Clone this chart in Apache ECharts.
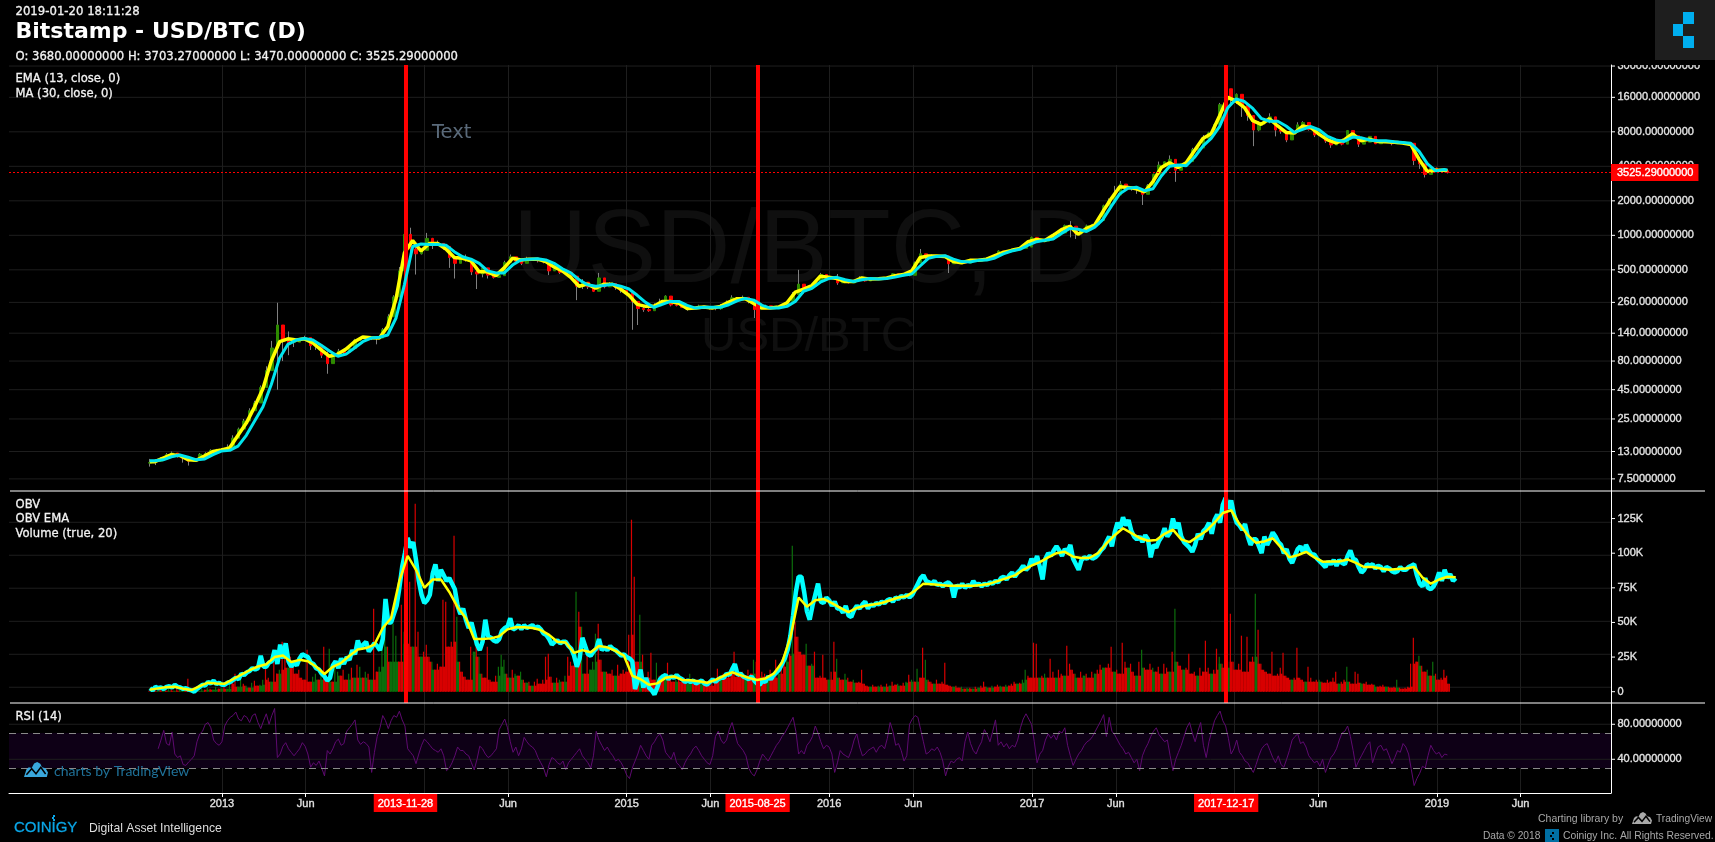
<!DOCTYPE html>
<html><head><meta charset="utf-8"><title>Bitstamp - USD/BTC (D)</title>
<style>html,body{margin:0;padding:0;background:#000}#c{width:1715px;height:842px}</style>
<script src="https://cdn.jsdelivr.net/npm/echarts@6/dist/echarts.min.js"></script></head>
<body><div id="c"></div>
<script>
// ---- values ----
const ema13 = [10.6,10.6,11.4,12.2,12,11,10.9,11.9,13,13.4,
14,18,23,32,46,80,118,125,122,125,115,100,88,92,102,118,130,128,127,160,280,700,900,730,
850,850,760,640,630,600,480,480,445,520,630,610,620,620,590,530,490,430,360,375,345,375,375,340,
300,250,240,240,265,265,255,230,232,237,232,240,262,280,280,255,232,232,237,258,320,340,365,440,430,
420,395,395,425,415,418,425,445,455,490,640,660,660,655,590,577,605,605,620,665,710,740,770,880,
920,900,1000,1120,1200,1020,1150,1230,1620,2100,2650,2620,2550,2400,2950,3900,4300,3900,4300,5500,7000,7700,11000,16000,
14800,13000,10000,9300,10400,9000,7900,7800,9000,8700,7600,6800,6400,6800,7700,6700,6900,6600,6550,6500,6400,6200,4600,3600,3700,
3700,3640];
const ma30 = [10.8,10.8,11,11.7,12.1,11.6,11,11.2,12.2,13.1,
13.3,14.5,18,24,32,50,85,112,122,126,122,110,98,88,92,104,118,127,129,135,190,370,800,840,
830,830,820,720,650,620,570,490,470,470,550,610,620,625,610,570,510,470,410,370,360,365,375,360,
340,300,260,235,250,265,265,245,232,236,236,236,248,268,282,272,245,232,232,240,265,325,345,390,420,
430,410,395,410,420,415,420,432,448,460,540,630,655,665,620,590,585,605,608,635,690,730,755,820,
880,905,930,1040,1150,1130,1080,1180,1380,1800,2300,2580,2630,2450,2550,3300,4000,4100,4050,4800,6000,7000,8900,13000,
15500,14700,12800,10500,9900,9900,9000,7900,8400,8900,8300,7300,6800,6600,7200,7100,6800,6700,6700,6550,6450,6350,5400,4200,3650,
3750,3720];
const candleClose = [10.4,10.7,11.1,12.2,12.6,12,11.4,10.7,11,12.3,12.5,13.3,13.4,
13.5,14.2,17,20.4,24,29.5,34.5,47,66,104,165,120,116,117,122,128,109,108,90,76,88,98,95,103,122,125,127,126,127,150,195,290,490,1020,760,690,740,
940,830,850,800,640,570,640,620,480,460,520,450,430,445,580,650,595,570,630,620,600,585,490,510,475,475,440,360,390,355,325,425,355,380,350,330,
315,265,230,225,220,243,262,295,247,245,235,235,233,242,235,230,229,245,262,285,277,288,265,225,230,243,232,240,243,265,305,375,335,358,395,455,425,
430,385,390,385,405,425,400,415,417,423,430,462,447,456,448,575,690,660,660,655,660,565,585,585,572,608,595,613,635,655,730,715,738,750,770,790,960,
905,890,920,990,1050,1220,1200,1040,1080,1210,1240,1350,1810,2000,2250,2800,2650,2570,2500,2280,2730,3410,4100,4380,4600,3700,4200,4400,5600,5780,7000,7850,9300,13800,19000,15800,
17000,13600,11100,8300,9500,9800,10800,8300,8100,6800,8100,9200,9650,8400,7500,7600,6650,6150,6600,6250,8200,7400,6250,6500,7300,6300,6700,6500,6300,6400,6350,6350,4500,4200,3400,3850,3700,
3650,3525.29];
const candleHigh = [11.2,11,11.6,12.6,13,12.3,11.8,11,11.3,12.6,12.8,13.6,13.7,
13.8,15,18,21,25,31,36,49,72,120,258,150,145,125,127,133,118,112,92,97,95,102,100,110,125,130,132,128,130,155,205,300,530,1140,1165,850,760,
1050,950,900,850,720,650,680,680,590,490,550,520,450,455,600,680,615,620,650,630,625,600,520,530,490,490,450,400,415,380,345,470,385,390,360,345,
320,290,240,240,240,255,280,300,265,258,255,240,240,248,240,236,232,252,270,300,285,298,282,260,235,248,236,242,246,272,320,500,345,362,400,470,455,
435,460,400,395,410,440,420,418,420,426,432,467,450,458,452,590,760,690,680,670,665,610,590,590,580,612,600,616,640,660,740,722,745,755,775,800,975,
915,915,930,1050,1060,1240,1330,1120,1100,1240,1260,1360,1850,2100,2700,2980,2700,2650,2600,2400,2800,3450,4400,4400,4980,4300,4250,4450,5800,6100,7500,8000,9500,14300,19666,16500,
17300,14000,11800,9300,9900,10300,11600,8600,8200,7000,8200,9700,9900,8800,7600,7800,6900,6200,6680,6300,8300,7500,6450,6600,7350,6400,6750,6560,6350,6420,6380,6400,5000,4300,3500,4100,3900,
3800,3703.27];
const candleLow = [9.6,9.9,10.6,11.6,12.2,11.5,10.4,9.8,10.6,11.9,12.2,12.9,13.1,
13.2,13.8,16,19,23,27,33,43,58,92,45,80,90,106,118,122,100,100,85,62,82,92,90,98,115,120,122,122,112,140,185,240,420,900,650,455,680,
880,760,810,750,520,420,600,590,450,340,430,420,420,435,560,620,570,550,600,610,580,570,450,490,460,460,430,272,340,340,320,350,345,365,335,315,
305,150,165,215,215,235,255,280,240,240,232,220,230,235,232,225,222,225,242,265,265,280,255,190,218,235,228,235,238,262,290,330,310,350,380,440,415,
425,370,385,380,400,415,395,412,414,420,428,455,444,452,440,525,670,620,640,650,650,469,570,575,565,600,590,608,630,650,700,705,730,740,760,780,920,
870,880,910,960,1030,1190,960,930,1020,1190,1220,1320,1700,1950,1900,2700,2550,2450,2300,1840,2650,3250,3900,4280,4350,2930,4050,4300,5500,5500,6900,7100,8600,12000,17000,13500,
14000,10800,10000,6000,8100,9300,9500,7300,7700,6500,7800,8700,9500,8200,7200,7500,6400,5800,6500,6100,7800,7300,5900,6350,7200,6250,6550,6440,6100,6380,6320,6300,4100,3800,3200,3700,3620,
3600,3470];
// signed: negative = red (down) day, positive = green (up) day
const volume = [-1,1,-2,1,-2,2,-1,3,-2,1,-3,2,1,-2,-13,-3,1,-2,1,3,-2,4,-3,2,5,-3,
4,-6,3,8,-10,-18,5,15,-8,6,-4,9,-11,-6,7,12,-25,-14,10,-30,-18,22,-50,-47,24,-35,-28,-18,-22,-14,
-12,-42,-10,15,18,-12,16,-45,-14,43,-10,25,20,-16,-22,-12,18,-24,14,-27,25,-14,20,-18,12,-83,-20,25,45,66,-45,30,68,56,-30,-87,
60,-48,-110,45,-188,-60,35,-40,-47,-35,30,-22,-28,-25,-92,-90,-45,-50,-156,75,-30,-20,-15,-12,-45,40,-45,35,-18,-14,-45,-12,-10,-16,25,37,
32,-18,14,-22,18,-16,20,-12,9,-10,6,-10,-13,-8,-12,-35,-38,-15,9,-14,12,-10,16,-35,-30,-26,100,-80,65,-18,-38,22,30,58,-68,-32,20,-20,-18,-22,16,-27,-18,-22,-20,-57,
-172,-115,-30,77,-37,-14,-20,-39,-12,29,-16,-12,16,-29,-14,-10,12,-16,-10,-14,8,18,-10,-8,-12,9,-8,-10,-6,-14,-12,-23,16,-18,-14,-20,-25,-40,-15,-18,-20,15,-22,-18,32,
-30,15,-20,-18,12,-22,-14,-32,18,-25,-30,36,-38,146,-70,-55,-40,-37,48,-26,28,-40,-14,-16,-37,-14,12,-20,-50,33,-14,-12,18,-14,-10,12,-9,-10,-22,-8,-6,5,-7,-5,6,-7,5,-8,6,-10,-7,8,-6,-9,10,-17,12,-10,23,-14,-44,32,-12,-10,8,-12,-8,-10,-29,-7,-6,5,-6,-4,5,-3,4,-4,3,-5,4,-6,-10,5,-4,6,-5,-7,6,-5,7,-6,-8,-10,8,-9,12,22,-16,-14,
-49,-48,14,-16,18,-14,-33,-20,14,-22,-18,16,-46,-28,-22,18,-14,-20,16,-18,-14,-20,18,-22,-27,24,-24,-28,-45,20,-22,-18,-49,-30,24,-28,-20,16,-30,42,-24,-22,-28,24,-20,-25,18,-28,-24,20,-40,83,-30,-26,22,-24,-38,-18,-20,16,-24,-20,-51,-24,18,-22,-43,35,-28,-24,30,-78,-30,-22,-28,-56,-20,-55,-30,-35,98,-62,-28,-22,-20,-18,-40,-16,-18,-24,-39,-16,-14,12,-14,-44,-14,-12,10,-25,-14,-10,-12,12,-10,-9,-12,-10,-14,-20,8,-10,-12,25,-10,-8,-20,-18,9,-8,-10,-7,-8,7,-5,-6,-7,5,-5,-4,-5,12,-4,-3,-4,-5,-28,-54,-30,36,-26,-20,22,-16,30,-18,-12,-14,-22,-16,-8];
const obv = [2.5,1,3.5,2.5,3,2,3.5,4,3,5,3.5,3,2,2.5,1.5,1,0,2,3.5,5,4.5,7,6,8,5.5,6.5,5,5,6.5,7,8.5,10,9,13,12,14,15,17,16,17,26,18,18,21,22,30,20,34,24,35,22,18,21,19,24,27,26,25,21,20,17,16,13,11,8,10,19,22,17,24,20,25,23,30,27,37,31,34,36,29,32,35,33,30,38,67,50,50,56,62,75,90,100,111,104,108,95,80,70,64,66,70,85,92,80,88,84,80,
82,78,74,62,56,60,52,46,50,42,34,30,36,52,40,39,37,36,38,44,46,47,53,45,46,48,45,48,46,47,48,46,47,45,42,41,38,34,36,37,35,36,36,33,31,26,18,24,39,33,27,26,29,31,38,30,32,30,33,31,30,28,26,27,25,24,22,2,8,16,3,10,3,1,-2,3,9,11,12,9,11,10,12,10,9,7,8,7,8,6,7,8,6,5,7,9,7,9,10,10,13,12,16,20,12,13,11,10,9,11,8,6,5,8,7,11,9,12,14,16,20,24,30,40,55,72,83,83,72,
58,52,62,70,78,65,64,68,66,62,65,60,60,57,62,55,54,59,62,60,63,65,60,63,62,64,63,65,64,66,67,65,68,67,69,68,70,68,70,74,78,82,84,80,79,78,80,77,78,76,78,79,77,68,77,75,78,75,77,76,80,77,78,76,78,77,79,78,80,79,82,83,81,84,86,83,86,88,91,88,90,96,92,98,90,81,96,100,98,102,105,102,98,103,101,106,96,92,88,95,97,96,98,96,97,99,102,104,108,112,105,115,122,118,126,120,124,116,112,110,112,108,113,110,97,106,104,109,112,118,112,115,125,118,122,112,108,106,104,101,106,114,110,116,118,122,114,124,128,122,135,140,132,138,128,122,120,117,121,112,106,110,110,105,100,112,106,110,115,112,108,106,100,103,96,93,98,103,105,100,106,102,99,99,96,94,92,90,94,92,95,91,95,93,92,98,102,96,95,90,86,88,92,91,92,89,91,90,87,90,89,87,86,87,90,88,88,90,91,92,84,78,76,82,75,74,76,80,86,80,88,82,85,80,82];
const obvEma = [1.5,2.4,3.3,3.6,2.2,1.2,4,6.5,6,5.8,9,12.3,15.5,18.2,19.8,25,26.2,21.5,23,22,18,12.8,18,20.8,26,30.5,31.5,34,46,53,80,98,88,75,81,81,72,61,53,38,38,38.5,40,45,46.5,46.5,46,44.5,41,36,35.5,28,30,28.5,33,32,29.5,26,11.5,9,5,6,10,11,8.5,8.2,7.5,6.5,8.5,11.5,14,12,10,8.4,9.5,13,21,39,68,61.4,66,67,64,60.5,57.5,60.5,62,63,64,66,68,69,73,78,77.5,77,76.5,76.5,76.5,76.5,77,78,80,82,84,88,91,93.5,97,100,101,97.5,96.5,96.7,100,107,113,118,114.5,111,109,109.5,114,117,110,108,112,116,122,129,131,121,113,107.5,108.5,110.8,104,97,98.5,101,97,93.9,94,94,95.5,93,90,90,89,88,88.5,89,90,82.5,78,81,83,82.7];
const rsi = [null,null,null,52,62,73,58,56,71,46,42,44,34,33,37,40,44,60,69,72,80,82,76,62,58,56,60,78,84,88,90,94,86,84,90,88,82,90,92,82,75,84,92,80,90,98,42,46,55,59,52,48,44,48,52,59,55,46,31,36,33,
38,30,21,50,46,52,60,63,56,58,72,76,80,85,62,57,60,58,54,25,48,66,76,90,84,75,84,90,88,95,85,78,52,48,44,35,46,56,63,60,
56,52,50,48,52,44,27,30,36,44,54,50,50,46,44,36,28,40,55,52,46,42,44,48,52,74,80,86,76,60,48,54,44,52,65,60,56,54,50,42,
36,30,20,34,42,40,36,34,38,28,36,40,44,48,52,44,40,36,30,44,72,62,56,50,54,48,44,38,40,36,30,22,18,30,38,46,56,50,44,40,
56,60,66,69,62,48,44,40,48,36,33,28,36,42,46,52,55,50,44,40,36,34,44,66,72,62,58,62,74,82,70,58,54,50,44,30,24,21,28,38,
46,42,38,44,50,56,60,66,70,76,82,88,72,46,
50,46,56,60,66,78,70,60,52,56,54,46,25,36,50,46,44,42,50,62,69,54,44,46,50,52,54,48,54,56,52,64,82,72,56,58,50,38,44,80,86,90,88,74,60,46,48,52,50,54,48,38,21,32,38,36,40,42,38,60,71,58,50,46,54,60,74,68,60,72,85,56,60,54,58,52,56,54,62,76,86,92,86,80,60,36,46,50,62,69,64,68,62,72,70,76,56,44,33,40,46,50,56,60,62,66,72,78,84,91,66,88,72,68,62,56,52,46,48,42,36,40,27,44,52,58,66,72,76,68,64,60,62,44,27,40,48,56,66,76,82,70,60,72,82,56,42,60,72,84,90,95,84,78,64,46,52,62,48,44,38,36,30,25,34,44,52,56,58,50,42,36,44,34,31,40,50,62,66,69,58,60,54,44,40,36,38,32,40,25,34,42,46,52,62,70,72,78,66,50,31,38,44,50,56,60,36,46,54,56,50,52,44,35,42,50,48,58,54,46,28,10,18,24,32,30,44,56,50,46,48,42,46,45];
const priceTicks = [30000,16000,8000,4000,2000,1000,500,260,140,80,45,25,13,7.5];
const obvTicks = [0,25,50,75,100,125];
const obvGridLines = [122.3,98.5,74.7,50.8,27,3.2];
const rsiTicks = [40,80];
const rsiBands = [30,70];
const timeLabelDates = ['2013-01-01','2013-06-01','2013-11-28','2014-06-01','2015-01-01','2015-06-01','2015-08-25','2016-01-01','2016-06-01','2017-01-01','2017-06-01','2017-12-17','2018-06-01','2019-01-01','2019-06-01'];
const timeLabels = ['2013','Jun','2013-11-28','Jun','2015','Jun','2015-08-25','2016','Jun','2017','Jun','2017-12-17','Jun','2019','Jun'];
const highlightDates = ['2013-11-28','2015-08-25','2017-12-17'];
const timeGridDates = ['2013-01-01','2013-06-01','2014-01-01','2014-06-01','2015-01-01','2015-06-01','2016-01-01','2016-06-01','2017-01-01','2017-06-01','2018-01-01','2018-06-01','2019-01-01','2019-06-01'];
const lastClose = 3525.29;

// ---- helpers ---- (x axes count in days since 2013-01-01)
const DAY = 864e5, EPOCH = Date.parse('2013-01-01T00:00:00Z'), ms = s => (Date.parse(s + 'T00:00:00Z') - EPOCH) / DAY;
const START = ms('2012-08-24'), END = ms('2019-01-20');
const xMin = ms('2011-12-14'), xMax = ms('2019-11-11');
const smoothDates = ema13.map((_, i) => i === 0 ? START : i === ema13.length - 1 ? END : ms('2012-08-18') + i * 15);
const d10 = i => START + i * 10, d5 = i => START + i * 5, d15 = i => START + i * 15;
const wicks = candleClose.map((c, i) => { const o = i ? candleClose[i - 1] : 10.3; return [d10(i), o, c, candleLow[i], candleHigh[i]]; });
const bodies = wicks.map(w => [w[0], w[1], w[2], Math.min(w[1], w[2]), Math.max(w[1], w[2])]);
const GRID = '#1e1e1e', WHITE = '#ffffff', AXTXT = '#e2e2e2';
const font = 'Liberation Sans';
const RED = '#d80000', GREEN = '#0c6e0c';

const txt = (x, y, text, size, fill, extra, z) => ({ type: 'text', x, y, silent: true, z: z === undefined ? 30 : z,
  style: Object.assign({ text, fill, fontSize: size, fontFamily: 'DejaVu Sans', textVerticalAlign: 'middle', textAlign: 'left' }, extra || {}) });
const heavy = c => ({ stroke: c, lineWidth: 0.3 });
const rect = (x, y, w, h, fill, z) => ({ type: 'rect', silent: true, z: z === undefined ? 30 : z, shape: { x, y, width: w, height: h }, style: { fill } });
const hline = (x1, x2, y) => ({ type: 'line', silent: true, z: 40, shape: { x1, y1: y, x2, y2: y }, style: { stroke: WHITE, lineWidth: 1 } });
const cloud = (x, y, w, h, fill, gap) => {
  const pts = [[0,1],[.1,.5],[.2,.35],[.32,.4],[.42,.1],[.55,0],[.68,.12],[.75,.35],[.9,.42],[1,.7],[.95,1]].map(p => [x + p[0] * w, y + p[1] * h]);
  const zig = [[.1,.85],[.32,.45],[.5,.78],[.7,.35],[.9,.8]].map(p => [x + p[0] * w, y + p[1] * h]);
  return [
    { type: 'polygon', silent: true, z: 30, shape: { points: pts }, style: { fill } },
    { type: 'polyline', silent: true, z: 31, shape: { points: zig }, style: { fill: 'none', stroke: gap, lineWidth: 1.5 } }
  ];
};

// draws horizontal grid, tick mark and the value text of a pane through its own y scale
const yTickItem = (fmt, drawGrid) => (params, api) => {
  const p = api.coord([api.value(0), api.value(1)]), g = params.coordSys, v = api.value(1), kids = [];
  if (drawGrid) kids.push({ type: 'line', shape: { x1: g.x, y1: p[1], x2: g.x + g.width, y2: p[1] }, style: { stroke: GRID, lineWidth: 1 } });
  kids.push({ type: 'line', shape: { x1: g.x + g.width, y1: p[1], x2: g.x + g.width + 4, y2: p[1] }, style: { stroke: WHITE, lineWidth: 1 } });
  kids.push({ type: 'text', x: g.x + g.width + 6.5, y: p[1], style: { text: fmt(v), fill: AXTXT, stroke: AXTXT, lineWidth: 0.35, fontSize: 11, fontFamily: font, textVerticalAlign: 'middle' } });
  return { type: 'group', silent: true, children: kids };
};
const hGrid = (params, api) => {
  const p = api.coord([api.value(0), api.value(1)]), g = params.coordSys;
  return { type: 'line', silent: true, shape: { x1: g.x, y1: p[1], x2: g.x + g.width, y2: p[1] }, style: { stroke: GRID, lineWidth: 1 } };
};
const redLines = { silent: true, symbol: 'none', animation: false, label: { show: false },
  lineStyle: { color: '#ff0000', width: 4, type: 'solid', opacity: 1 }, emphasis: { disabled: true },
  data: highlightDates.map(d => ({ xAxis: ms(d) })) };

const paneX = gi => ({ type: 'value', gridIndex: gi, min: xMin, max: xMax, axisLine: { show: false }, axisLabel: { show: false },
  axisTick: { show: false, customValues: timeGridDates.map(ms) },
  splitLine: { show: true, lineStyle: { color: GRID, width: 1 } }, axisPointer: { show: false } });
const labelMap = {}; timeLabelDates.forEach((d, i) => labelMap[ms(d)] = { text: timeLabels[i], red: highlightDates.includes(d) });
const labelBox = { fontSize: 11, fontFamily: font, padding: [4, 4, 3, 4], textBorderWidth: 0.35 };

const option = {
  backgroundColor: '#000', animation: false,
  grid: [
    { left: 9, right: 104, top: 65, height: 426 },
    { left: 9, right: 104, top: 491, height: 212 },
    { left: 9, right: 104, top: 703, height: 90 }
  ],
  xAxis: [paneX(0), paneX(1), paneX(2), {
    type: 'value', gridIndex: 2, min: xMin, max: xMax, position: 'bottom',
    axisLine: { show: true, onZero: false, lineStyle: { color: WHITE, width: 1 } },
    axisTick: { show: true, length: 4, lineStyle: { color: WHITE }, customValues: timeLabelDates.map(ms) },
    splitLine: { show: false },
    axisLabel: { show: true, customValues: timeLabelDates.map(ms), hideOverlap: false, margin: 1, color: AXTXT, fontSize: 11, fontFamily: font,
      formatter: v => { const l = labelMap[v]; return l ? (l.red ? '{r|' + l.text + '}' : '{n|' + l.text + '}') : ''; },
      rich: { r: Object.assign({ backgroundColor: '#ff0000', color: '#fff', textBorderColor: '#fff' }, labelBox),
              n: Object.assign({ color: AXTXT, textBorderColor: AXTXT }, labelBox) } }
  }],
  yAxis: [
    { type: 'log', gridIndex: 0, position: 'right', min: 5.88, max: 30630, axisLine: { show: true, onZero: false, lineStyle: { color: WHITE } }, axisTick: { show: false }, axisLabel: { show: false }, splitLine: { show: false }, minorTick: { show: false } },
    { type: 'value', gridIndex: 1, position: 'right', min: -8.16, max: 144.9, axisLine: { show: true, onZero: false, lineStyle: { color: WHITE } }, axisTick: { show: false }, axisLabel: { show: false }, splitLine: { show: false } },
    { type: 'value', gridIndex: 1, min: -11.3, max: 200.7, show: false, splitLine: { show: false } },
    { type: 'value', gridIndex: 2, position: 'right', min: 1.5, max: 104.3, axisLine: { show: true, onZero: false, lineStyle: { color: WHITE } }, axisTick: { show: false }, axisLabel: { show: false }, splitLine: { show: false } }
  ],
  series: [
    { name: 'priceAxis', type: 'custom', xAxisIndex: 0, yAxisIndex: 0, z: 1, renderItem: yTickItem(v => v.toFixed(8), true), data: priceTicks.map(v => [xMin, v]), encode: { x: 0, y: 1 } },
    { name: 'obvGrid', type: 'custom', xAxisIndex: 1, yAxisIndex: 1, z: 1, renderItem: hGrid, data: obvGridLines.map(v => [xMin, v]), encode: { x: 0, y: 1 } },
    { name: 'obvAxis', type: 'custom', xAxisIndex: 1, yAxisIndex: 1, z: 1, renderItem: yTickItem(v => v ? v + 'K' : '0', false), data: obvTicks.map(v => [xMin, v]), encode: { x: 0, y: 1 } },
    { name: 'rsiAxis', type: 'custom', xAxisIndex: 2, yAxisIndex: 3, z: 1, renderItem: yTickItem(v => v.toFixed(8), true), data: rsiTicks.map(v => [xMin, v]), encode: { x: 0, y: 1 } },
    { name: 'wicks', type: 'candlestick', xAxisIndex: 0, yAxisIndex: 0, z: 2, barWidth: 1, silent: true, encode: { x: 0, y: [1, 2, 3, 4] }, data: wicks,
      itemStyle: { color: '#808080', color0: '#808080', borderColor: '#808080', borderColor0: '#808080', borderWidth: 1 } },
    { name: 'candles', type: 'candlestick', xAxisIndex: 0, yAxisIndex: 0, z: 3, barWidth: 3, silent: true, encode: { x: 0, y: [1, 2, 3, 4] }, data: bodies,
      itemStyle: { color: '#2e8b00', color0: '#ff0000', borderColor: '#2e8b00', borderColor0: '#ff0000', borderWidth: 1 } },
    { name: 'EMA (13, close, 0)', type: 'line', xAxisIndex: 0, yAxisIndex: 0, z: 4, showSymbol: false, silent: true, lineStyle: { color: '#ffff00', width: 3.5 }, data: ema13.map((v, i) => [smoothDates[i], v]) },
    { name: 'MA (30, close, 0)', type: 'line', xAxisIndex: 0, yAxisIndex: 0, z: 5, showSymbol: false, silent: true, lineStyle: { color: '#00e5ee', width: 3 }, data: ma30.map((v, i) => [smoothDates[i], v]),
      markLine: { silent: true, symbol: 'none', animation: false, data: [{ yAxis: lastClose }], lineStyle: { color: '#ff0000', width: 1, type: [2, 2] },
        label: { show: true, position: 'end', distance: 0, formatter: lastClose.toFixed(8), color: '#fff', fontSize: 11, fontFamily: font, backgroundColor: '#ff0000', padding: [3, 5, 3, 6], textBorderColor: '#fff', textBorderWidth: 0.35 } } },
    { name: 'markers', type: 'line', xAxisIndex: 0, yAxisIndex: 0, z: 8, showSymbol: false, silent: true, lineStyle: { opacity: 0 }, data: [[START, lastClose]], markLine: redLines },
    { name: 'Volume (true, 20)', type: 'bar', xAxisIndex: 1, yAxisIndex: 2, z: 2, barWidth: 1.2, barGap: '-100%', silent: true,
      data: volume.map((v, i) => ({ value: [d5(i), Math.abs(v)], itemStyle: { color: v < 0 ? RED : GREEN } })) },
    // solid foot of the volume histogram: the height shared with both neighbours
    { name: 'Volume foot', type: 'bar', xAxisIndex: 1, yAxisIndex: 2, z: 2, barWidth: 2.8, barGap: '-100%', silent: true,
      data: volume.map((v, i) => ({ value: [d5(i), Math.min(Math.abs(v), Math.abs(volume[i - 1] || 0), Math.abs(volume[i + 1] || 0))], itemStyle: { color: v < 0 ? RED : GREEN } })) },
    { name: 'OBV', type: 'line', xAxisIndex: 1, yAxisIndex: 1, z: 4, showSymbol: false, silent: true, lineStyle: { color: '#00ffff', width: 4.5 }, data: obv.map((v, i) => [d5(i), v]) },
    { name: 'OBV EMA', type: 'line', xAxisIndex: 1, yAxisIndex: 1, z: 5, showSymbol: false, silent: true, lineStyle: { color: '#ffff00', width: 2.5 }, data: obvEma.map((v, i) => [d15(i), v]),
      markLine: redLines },
    { name: 'RSI (14)', type: 'line', xAxisIndex: 2, yAxisIndex: 3, z: 4, showSymbol: false, silent: true, connectNulls: false, lineStyle: { color: '#5e0a70', width: 1 }, data: rsi.map((v, i) => [d5(i), v]),
      markArea: { silent: true, animation: false, itemStyle: { color: '#0e0016' }, data: [[{ yAxis: rsiBands[0] }, { yAxis: rsiBands[1] }]] },
      markLine: { silent: true, symbol: 'none', animation: false, label: { show: false }, lineStyle: { color: '#8a8a8a', width: 1, type: [7, 5] }, data: rsiBands.map(v => ({ yAxis: v })) } }
  ],
  graphic: { elements: [
    // watermarks sit under every mark
    txt(513, 254, 'USD/BTC, D', 103, '#0f0f0f', { fontFamily: font }, 0),
    txt(701, 337, 'USD/BTC', 49, '#0f0f0f', { fontFamily: font }, 0),
    // header
    txt(15.5, 11.5, '2019-01-20 18:11:28', 11.7, '#f2f2f2', heavy('#f2f2f2')),
    txt(15.5, 32.5, 'Bitstamp - USD/BTC (D)', 22, '#ffffff', { fontWeight: 'bold' }),
    txt(15.5, 56.5, 'O: 3680.00000000 H: 3703.27000000 L: 3470.00000000 C: 3525.29000000', 11.6, '#f2f2f2', heavy('#f2f2f2')),
    txt(15.5, 78.5, 'EMA (13, close, 0)', 11.6, '#f2f2f2', heavy('#f2f2f2')),
    txt(15.5, 93.5, 'MA (30, close, 0)', 11.6, '#f2f2f2', heavy('#f2f2f2')),
    txt(15.5, 504.5, 'OBV', 11.6, '#f2f2f2', heavy('#f2f2f2')),
    txt(15.5, 519, 'OBV EMA', 11.6, '#f2f2f2', heavy('#f2f2f2')),
    txt(15.5, 534, 'Volume (true, 20)', 11.6, '#f2f2f2', heavy('#f2f2f2')),
    txt(15.5, 717, 'RSI (14)', 11.6, '#f2f2f2', heavy('#f2f2f2')),
    txt(432, 133, 'Text', 19.5, '#5a6a7a'),
    // pane separators
    hline(10, 1705, 491), hline(10, 1705, 703),
    rect(1612, 59, 103, 6, '#000', 29),
    // logo top right
    rect(1655, 0, 60, 60, '#1e1e1e', 30),
    rect(1683, 12, 11, 12, '#00aeef', 31), rect(1673, 24, 10, 12, '#00aeef', 31), rect(1683, 36, 11, 12, '#00aeef', 31),
    // TradingView mark in the RSI pane
    ...cloud(24, 762, 24, 15, '#39a7dc', '#000'),
    txt(54, 771, 'charts by TradingView', 14, '#1f7199', { fontFamily: 'Lato' }),
    // footer left
    txt(14, 828, 'COINIGY', 15, '#0aa5e6', Object.assign({ fontFamily: font }, heavy('#0aa5e6'))),
    rect(53, 815, 2, 2, '#0aa5e6', 31), rect(52, 817, 2, 2, '#0aa5e6', 31), rect(53, 819, 2, 2, '#0aa5e6', 31),
    txt(89, 829, 'Digital Asset Intelligence', 12.2, '#dddddd', { fontFamily: font }),
    // footer right
    txt(1538, 819, 'Charting library by', 10.5, '#a8a8a8', { fontFamily: font }),
    ...cloud(1632, 812, 20, 12, '#a8a8a8', '#000'),
    txt(1656, 819, 'TradingView', 10.2, '#a8a8a8', { fontFamily: font }),
    txt(1483, 836, 'Data © 2018', 10.2, '#a8a8a8', { fontFamily: font }),
    rect(1545, 829, 14, 13, '#006fa3', 30),
    rect(1552, 832, 2, 2, '#000', 31), rect(1550, 835, 2, 2, '#000', 31), rect(1552, 838, 2, 2, '#000', 31),
    txt(1563, 836, 'Coinigy Inc. All Rights Reserved.', 10.35, '#a8a8a8', { fontFamily: font })
  ] }
};
const chart = echarts.init(document.getElementById('c'), null, { width: 1715, height: 842 });
chart.setOption(option);
</script></body></html>
